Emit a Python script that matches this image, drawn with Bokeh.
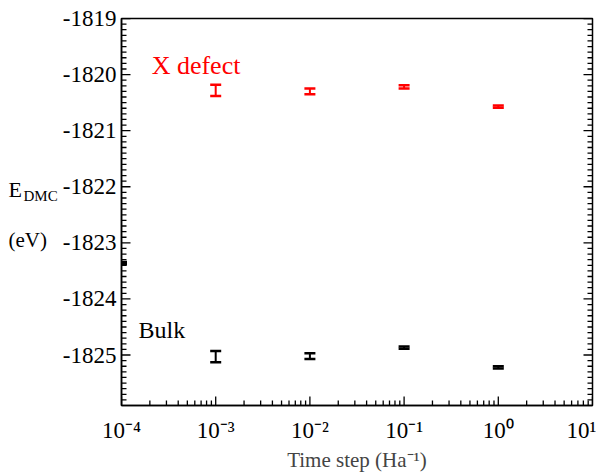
import math
from bokeh.plotting import figure
from bokeh.layouts import row
from bokeh.models import (ColumnDataSource, Whisker, TeeHead, Label,
                          FixedTicker, LogTicker, Range1d)
from bokeh.core.properties import value
from bokeh.embed import file_html
from bokeh.resources import INLINE

# data
time_steps = [1e-3, 1e-2, 1e-1, 1e0]
defect_energy = [-1820.28, -1820.30, -1820.22, -1820.57]
defect_err = [0.10, 0.05, 0.03, 0.02]
bulk_energy = [-1825.03, -1825.02, -1824.87, -1825.22]
bulk_err = [0.10, 0.05, 0.02, 0.02]
edge_step = [1e-4]
edge_energy = [-1823.36]
edge_err = [0.02]

x_ticks = [1e-4, 1e-3, 1e-2, 1e-1, 1e0, 1e1]
x_tick_labels = ["10⁻⁴", "10⁻³", "10⁻²", "10⁻¹", "10⁰", "10¹"]
y_ticks = [-1825, -1824, -1823, -1822, -1821, -1820, -1819]
y_tick_labels = ["-1825", "-1824", "-1823", "-1822", "-1821", "-1820", "-1819"]

FONT = "Liberation Serif"
X0, X1 = 1e-4, 1e1
Y0, Y1 = -1825.9, -1819

p = figure(frame_width=471, frame_height=387, x_axis_type="log",
           x_range=Range1d(X0, X1), y_range=Range1d(Y0, Y1),
           output_backend="svg", toolbar_location=None,
           min_border_left=61, min_border_top=18, min_border_right=4,
           min_border_bottom=50)
p.background_fill_color = "white"
p.border_fill_color = "white"
p.outline_line_color = "black"
p.outline_line_width = 1.5
p.xgrid.visible = False
p.ygrid.visible = False

def style_axis(ax):
    ax.axis_line_color = "black"
    ax.axis_line_width = 1.5
    ax.major_tick_in = 0
    ax.major_tick_out = 0
    ax.minor_tick_in = 0
    ax.minor_tick_out = 0
    ax.major_label_text_font = FONT
    ax.major_label_text_font_size = "23px"
    ax.major_label_text_color = "black"

xa = p.xaxis[0]
xa.ticker = LogTicker(desired_num_ticks=6, num_minor_ticks=10)
xa.major_label_overrides = {t: l for t, l in zip(x_ticks, x_tick_labels)}
style_axis(xa)
xa.major_label_standoff = 12
xa.axis_label = "Time step (Ha⁻¹)"
xa.axis_label_text_font = FONT
xa.axis_label_text_font_size = "21px"
xa.axis_label_text_font_style = "normal"
xa.axis_label_standoff = 2

ya = p.yaxis[0]
ya.ticker = FixedTicker(ticks=y_ticks)
ya.major_label_overrides = {t: l for t, l in zip(y_ticks, y_tick_labels)}
style_axis(ya)
ya.major_label_standoff = 5

# tick marks drawn inward (half of each dash is clipped by the frame)
minor_y = [y_ticks[0] - 1 + i * 0.1 for i in range(71)]
minor_y = [v for v in minor_y if Y0 < v < Y1 and all(abs(v - t) > 1e-6 for t in y_ticks)]
minor_x = []
for t in x_ticks[:-1]:
    for m in range(2, 10):
        minor_x.append(t * m)

for xe in (X0, X1):
    p.scatter(x=[xe] * len(y_ticks), y=y_ticks, marker="dash", size=18,
              line_color="black", line_width=1.3)
    p.scatter(x=[xe] * len(minor_y), y=minor_y, marker="dash", size=10,
              line_color="black", line_width=1.3)
p.scatter(x=x_ticks, y=[Y0] * len(x_ticks), marker="dash", size=18, angle=math.pi / 2,
          line_color="black", line_width=1.3)
p.scatter(x=minor_x, y=[Y0] * len(minor_x), marker="dash", size=10, angle=math.pi / 2,
          line_color="black", line_width=1.3)

red_src = ColumnDataSource(dict(x=time_steps, y=defect_energy,
                                lo=[v - e for v, e in zip(defect_energy, defect_err)],
                                hi=[v + e for v, e in zip(defect_energy, defect_err)]))
blk_src = ColumnDataSource(dict(x=time_steps + edge_step, y=bulk_energy + edge_energy,
                                lo=[v - e for v, e in zip(bulk_energy + edge_energy, bulk_err + edge_err)],
                                hi=[v + e for v, e in zip(bulk_energy + edge_energy, bulk_err + edge_err)]))

for src, col in [(red_src, "red"), (blk_src, "black")]:
    w = Whisker(source=src, base="x", lower="lo", upper="hi", dimension="height",
                line_color=col, line_width=2,
                upper_head=TeeHead(size=11, line_color=col, line_width=2.5),
                lower_head=TeeHead(size=11, line_color=col, line_width=2.5))
    p.add_layout(w)

p.add_layout(Label(x=10**-3.68, y=-1819.84, text="X defect", text_color="red",
                   text_font=FONT, text_font_size="26px", text_baseline="middle"))
p.add_layout(Label(x=10**-3.82, y=-1824.56, text="Bulk", text_color="black",
                   text_font=FONT, text_font_size="24px", text_baseline="middle"))

# y-axis title in a narrow side panel (pixel coordinates, y from top)
t = figure(frame_width=59, frame_height=300, x_range=Range1d(0, 59), y_range=Range1d(300, 0),
           output_backend="svg", toolbar_location=None, min_border=0)
t.axis.visible = False
t.grid.visible = False
t.outline_line_color = None
t.background_fill_color = "white"
t.border_fill_color = "white"
t.text(x=[8], y=[171], text=["E"], text_font=value(FONT), text_font_size="22px",
       text_baseline="middle", text_color="black")
t.text(x=[23], y=[177], text=["DMC"], text_font=value(FONT), text_font_size="15px",
       text_baseline="middle", text_color="black")
t.text(x=[8], y=[221], text=["(eV)"], text_font=value(FONT), text_font_size="21px",
       text_baseline="middle", text_color="black")

layout = row(t, p, spacing=0)
open("out.html", "w").write(file_html(layout, INLINE))
